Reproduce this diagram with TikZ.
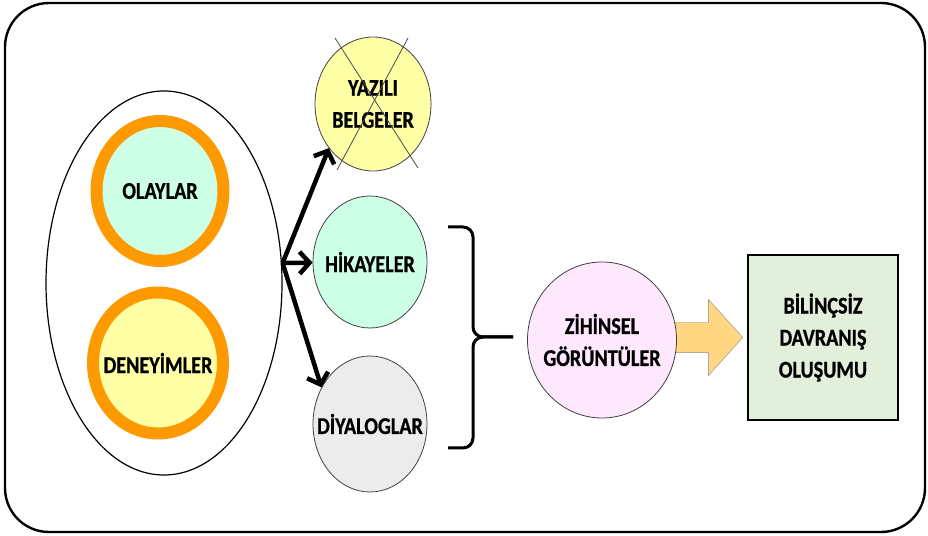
\documentclass[tikz,border=0pt]{standalone}
\usepackage{fontspec}
\setmainfont{Carlito}[FakeStretch=0.84, BoldFeatures={FakeBold=0.8}]
\usetikzlibrary{shapes.geometric,shapes.arrows,arrows.meta}

\definecolor{ringorange}{RGB}{255,153,0}
\definecolor{mint}{RGB}{204,255,230}
\definecolor{paleyellow}{RGB}{255,255,166}
\definecolor{palegray}{RGB}{236,236,236}
\definecolor{palepink}{RGB}{253,232,253}
\definecolor{boxgreen}{RGB}{226,239,218}
\definecolor{flowfill}{RGB}{255,214,130}

\begin{document}
\begin{tikzpicture}[x=1pt, y=1pt]
	\tikzset{
		txt/.style={
			font=\bfseries\fontsize{24}{32}\selectfont,
			align=center
		},
		ring/.style={
			ellipse,
			draw=ringorange,
			line width=12pt,
			inner sep=0pt,
			label={[txt]center:#1}
		},
		bubble/.style={
			ellipse,
			draw=black!75,
			line width=0.8pt,
			inner sep=0pt,
			label={[txt]center:#1}
		},
		box/.style={
			rectangle,
			draw,
			line width=2pt,
			fill=boxgreen,
			minimum width=150,
			minimum height=165,
			txt
		},
		flow/.style={
			single arrow,
			draw=black!45,
			fill=flowfill,
			minimum height=71,
			inner xsep=0pt,
			inner ysep=15pt,
			single arrow head extend=23pt,
			single arrow tip angle=96
		},
		line/.style={
			-{Straight Barb[length=10pt, width=22pt, line width=4.5pt]},
			line width=4.5pt
		},
		brace/.style={
			line width=3pt,
			rounded corners=10
		},
		cross/.style={
			draw=black!70,
			line width=0.8pt
		}
	}

	\useasboundingbox (0,0) rectangle (928,535);
	\draw[line width=2.4pt, rounded corners=44] (5,3) rectangle (925,532);

	\node[ellipse, draw, line width=1.2pt, inner sep=0pt,
		minimum width=236, minimum height=384] (group) at (164,252) {};
	\node[ring={OLAYLAR}, fill=mint,
		minimum width=127, minimum height=140] (olay) at (160,344) {};
	\node[ring={DENEYİMLER}, fill=paleyellow,
		minimum width=130, minimum height=141] (deneyim) at (158,172) {};

	\node[bubble={YAZILI\\BELGELER}, fill=paleyellow,
		minimum width=116, minimum height=134] (yazili) at (373,431) {};
	\node[bubble={HİKAYELER}, fill=mint,
		minimum width=114, minimum height=132] (hikaye) at (370,273) {};
	\node[bubble={DİYALOGLAR}, fill=palegray,
		minimum width=114, minimum height=136] (diyalog) at (370,111) {};

	\draw[cross] ([shift={(-38,66)}]yazili.center) -- ([shift={(45,-64)}]yazili.center);
	\draw[cross] ([shift={(35,66)}]yazili.center) -- ([shift={(-36,-66)}]yazili.center);

	\node[box] (davranis) at (823,197.5)
		{BİLİNÇSİZ\\DAVRANIŞ\\OLUŞUMU};
	\node[flow, anchor=tip] (akis) at ([xshift=-4]davranis.west) {};
	\node[bubble={ZİHİNSEL\\GÖRÜNTÜLER}, fill=palepink,
		minimum width=149, minimum height=156] (zihin) at (602,195) {};

	\coordinate (fork) at ([yshift=20]group.east);
	\draw[line] (fork) -- (yazili.225);
	\draw[line] (fork) -- (hikaye);
	\draw[line] (fork) -- (diyalog.143);

	\coordinate (br-top) at (448,308);
	\coordinate (br-bot) at (448,87);
	\coordinate (br-tip) at (513,198);
	\draw[brace] (br-top) -- ++(25,0) |- (br-tip);
	\draw[brace] (br-bot) -- ++(25,0) |- (br-tip);

\end{tikzpicture}
\end{document}
